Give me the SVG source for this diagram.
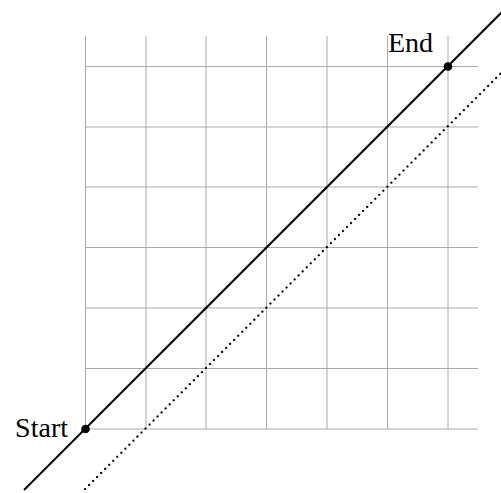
<svg xmlns="http://www.w3.org/2000/svg" width="501" height="493" viewBox="0 0 501 493">
<style>
.grid line{stroke:#aaaaaa;stroke-width:1}
.lbl{font-family:"Liberation Serif","DejaVu Serif",serif;font-size:28px;fill:#000}
</style>
<rect width="501" height="493" fill="#fff"/>
<g id="grid" class="grid">
<line x1="85.5" y1="36" x2="85.5" y2="429"/>
<line x1="146" y1="36" x2="146" y2="429"/>
<line x1="206" y1="36" x2="206" y2="429"/>
<line x1="266.5" y1="36" x2="266.5" y2="429"/>
<line x1="327" y1="36" x2="327" y2="429"/>
<line x1="387.5" y1="36" x2="387.5" y2="429"/>
<line x1="448" y1="36" x2="448" y2="429"/>
<line x1="85" y1="66.5" x2="478" y2="66.5"/>
<line x1="85" y1="127" x2="478" y2="127"/>
<line x1="85" y1="187" x2="478" y2="187"/>
<line x1="85" y1="247.5" x2="478" y2="247.5"/>
<line x1="85" y1="308" x2="478" y2="308"/>
<line x1="85" y1="368.5" x2="478" y2="368.5"/>
<line x1="85" y1="429" x2="478" y2="429"/>
</g>
<g id="connectors">
<line x1="24" y1="490" x2="506" y2="8" stroke="#000" stroke-width="2"/>
<line x1="85" y1="489" x2="502" y2="72" stroke="#000" stroke-width="2.2" stroke-dasharray="0.1 5.6" stroke-linecap="round"/>
</g>
<g id="start">
<circle cx="85.5" cy="429" r="4.3" fill="#000"/>
<text class="lbl" x="68" y="437" text-anchor="end">Start</text>
</g>
<g id="end">
<circle cx="448" cy="66.5" r="4.3" fill="#000"/>
<text class="lbl" x="388" y="52">End</text>
</g>
</svg>
